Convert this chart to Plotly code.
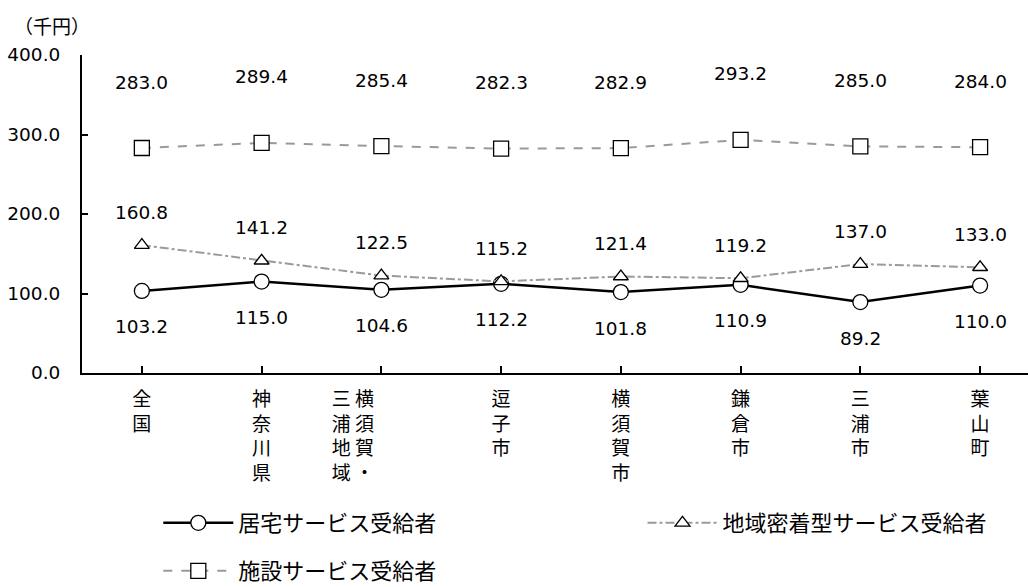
import plotly.graph_objects as go

categories = ["全国", "神奈川県", "横須賀・三浦地域", "逗子市", "横須賀市", "鎌倉市", "三浦市", "葉山町"]
tick_labels = [
    "全<br>国",
    "神<br>奈<br>川<br>県",
    "三\u00a0横\u3000\u3000\u3000<br>浦\u00a0須\u3000\u3000\u3000<br>地\u00a0賀\u3000\u3000\u3000<br>域\u00a0・\u3000\u3000\u3000",
    "逗<br>子<br>市",
    "横<br>須<br>賀<br>市",
    "鎌<br>倉<br>市",
    "三<br>浦<br>市",
    "葉<br>山<br>町",
]
home = [103.2, 115.0, 104.6, 112.2, 101.8, 110.9, 89.2, 110.0]
community = [160.8, 141.2, 122.5, 115.2, 121.4, 119.2, 137.0, 133.0]
facility = [283.0, 289.4, 285.4, 282.3, 282.9, 293.2, 285.0, 284.0]
y_ticks = [0, 100, 200, 300, 400]

NUMF = "DejaVu Sans, Noto Sans CJK JP"
CJK = "Noto Sans CJK JP"
x = list(range(len(categories)))

fig = go.Figure()
fig.add_trace(go.Scatter(
    x=x, y=home, name="居宅サービス受給者", mode="lines+markers", legend="legend",
    line=dict(color="black", width=2.5),
    marker=dict(symbol="circle", size=15, color="white", line=dict(color="black", width=1.3)),
))
fig.add_trace(go.Scatter(
    x=x, y=community, name="地域密着型サービス受給者", mode="lines+markers", legend="legend2",
    line=dict(color="#9a9a9a", width=2, dash="dashdot"),
    marker=dict(symbol="triangle-up", size=13, color="white", line=dict(color="black", width=1.3)),
))
fig.add_trace(go.Scatter(
    x=x, y=facility, name="施設サービス受給者", mode="lines+markers", legend="legend3",
    line=dict(color="#9a9a9a", width=2, dash="dash"),
    marker=dict(symbol="square", size=15, color="white", line=dict(color="black", width=1.3)),
))

annotations = []
for i in x:
    annotations.append(dict(x=i, y=facility[i], text=f"{facility[i]:.1f}", showarrow=False,
                            yshift=66, font=dict(size=18.5, color="black", family=NUMF)))
    annotations.append(dict(x=i, y=community[i], text=f"{community[i]:.1f}", showarrow=False,
                            yshift=33, font=dict(size=18.5, color="black", family=NUMF)))
    annotations.append(dict(x=i, y=home[i], text=f"{home[i]:.1f}", showarrow=False,
                            yshift=-36, font=dict(size=18.5, color="black", family=NUMF)))
annotations.append(dict(xref="paper", yref="paper", x=-0.074, y=1.0, xanchor="left", yanchor="middle",
                        yshift=30, text="（千円）", showarrow=False,
                        font=dict(size=19, color="black", family=CJK)))

leg_common = dict(xref="container", yref="container", xanchor="left", yanchor="middle",
                  font=dict(size=22, family=CJK, color="black"), bgcolor="rgba(0,0,0,0)",
                  itemwidth=70)
fig.update_layout(
    width=1028, height=587,
    margin=dict(l=82, r=0, t=55, b=214, autoexpand=False),
    plot_bgcolor="white", paper_bgcolor="white",
    font=dict(family=NUMF, color="black", size=18.5),
    showlegend=True,
    legend=dict(x=0.154, y=1 - 523 / 587, **leg_common),
    legend2=dict(x=0.625, y=1 - 523 / 587, **leg_common),
    legend3=dict(x=0.154, y=1 - 571 / 587, **leg_common),
    annotations=annotations,
)
fig.update_xaxes(
    range=[-0.5, 7.4], tickmode="array", tickvals=x, ticktext=tick_labels,
    showline=True, linecolor="black", linewidth=2, ticks="inside", tickson="boundaries",
    ticklen=7, tickwidth=2, tickcolor="black", showgrid=False, zeroline=False,
    tickfont=dict(size=19, family=CJK), automargin=False, ticklabelstandoff=8,
)
fig.update_yaxes(
    range=[0, 400], tickvals=y_ticks, ticktext=[f"{v:.1f}" for v in y_ticks],
    showline=True, linecolor="black", linewidth=2, ticks="inside", ticklen=6, tickwidth=2,
    tickcolor="black", showgrid=False, zeroline=False, tickfont=dict(size=18.5, family=NUMF),
    automargin=False, ticklabelstandoff=16,
)
fig.write_html("out.html", post_script="document.body.style.margin='0';",
               config={"displayModeBar": False})
